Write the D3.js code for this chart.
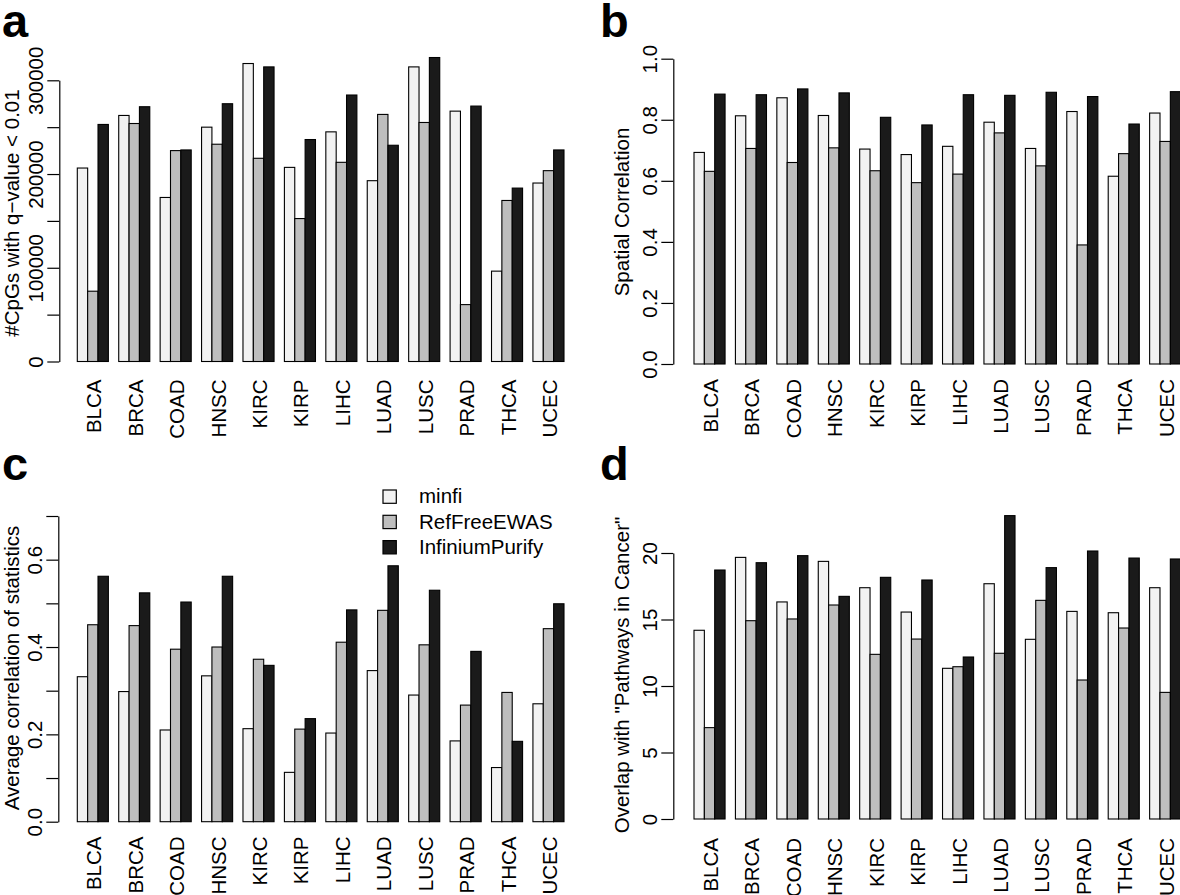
<!DOCTYPE html>
<html>
<head>
<meta charset="utf-8">
<script src="https://cdn.jsdelivr.net/npm/d3@7"></script>
<style>
  body { margin: 0; background: #fff; }
  text { font-family: "Liberation Sans", Arial, Helvetica, sans-serif; fill: #000; }
</style>
</head>
<body>
<svg width="1180" height="895"></svg>
<script>
const categories = ['BLCA', 'BRCA', 'COAD', 'HNSC', 'KIRC', 'KIRP', 'LIHC', 'LUAD', 'LUSC', 'PRAD', 'THCA', 'UCEC'];
const methods = ['minfi', 'RefFreeEWAS', 'InfiniumPurify'];
const colors = ['#f2f2f2', '#bebebe', '#1a1a1a'];

// a: number of CpGs with q-value < 0.01
const cpgMinfi = [206400, 262500, 175000, 250000, 317900, 207100, 245000, 192900, 314300, 267100, 96400, 190400];
const cpgRefFree = [75000, 253900, 225000, 231800, 216800, 152500, 212500, 263600, 255000, 60700, 171800, 203600];
const cpgPurify = [252900, 271800, 225700, 275000, 314300, 236800, 284300, 230700, 324300, 272500, 185000, 225700];
const cpgTicks = [0, 50000, 100000, 150000, 200000, 250000, 300000];
const cpgLabels = [0, 100000, 200000, 300000];

// b: spatial correlation
const spMinfi = [0.693, 0.813, 0.872, 0.814, 0.704, 0.686, 0.713, 0.792, 0.706, 0.827, 0.615, 0.822];
const spRefFree = [0.631, 0.706, 0.660, 0.708, 0.633, 0.594, 0.622, 0.757, 0.649, 0.390, 0.689, 0.729];
const spPurify = [0.884, 0.882, 0.901, 0.888, 0.808, 0.783, 0.882, 0.880, 0.890, 0.876, 0.786, 0.892];
const spTicks = [0, 0.2, 0.4, 0.6, 0.8, 1.0];
const spLabels = [0, 0.2, 0.4, 0.6, 0.8, 1.0];

// c: average correlation of statistics
const acMinfi = [0.332, 0.298, 0.210, 0.334, 0.213, 0.113, 0.203, 0.346, 0.290, 0.185, 0.124, 0.270];
const acRefFree = [0.451, 0.449, 0.395, 0.400, 0.372, 0.212, 0.411, 0.484, 0.405, 0.267, 0.296, 0.442];
const acPurify = [0.562, 0.524, 0.503, 0.562, 0.358, 0.236, 0.485, 0.586, 0.530, 0.390, 0.184, 0.499];
const acTicks = [0, 0.1, 0.2, 0.3, 0.4, 0.5, 0.6, 0.7];
const acLabels = [0, 0.2, 0.4, 0.6];

// d: overlap with "Pathways in Cancer"
const ovMinfi = [14.19, 19.67, 16.32, 19.37, 17.39, 15.56, 11.33, 17.69, 13.51, 15.61, 15.51, 17.39];
const ovRefFree = [6.87, 14.91, 15.04, 16.09, 12.38, 13.53, 11.45, 12.46, 16.44, 10.45, 14.36, 9.52];
const ovPurify = [18.72, 19.27, 19.80, 16.74, 18.17, 17.97, 12.18, 22.81, 18.90, 20.15, 19.62, 19.55];
const ovTicks = [0, 5, 10, 15, 20];
const ovLabels = [0, 5, 10, 15, 20];

const svg = d3.select('svg');
const fontSize = '20.5px';

const panels = [
  { letter: 'a', lx: 2, ly: 37, values: [cpgMinfi, cpgRefFree, cpgPurify], ticks: cpgTicks, labels: cpgLabels,
    fmt: d3.format('d'), axisX: 59.3, xr: [77.3, 564], y0: 361.5, y1: 80.3, ymax: 300000,
    title: '#CpGs with q\u2212value < 0.01', titleX: 19, titleY: 213, catY: 379.5 },
  { letter: 'b', lx: 600, ly: 37, values: [spMinfi, spRefFree, spPurify], ticks: spTicks, labels: spLabels,
    fmt: d3.format('.1f'), axisX: 673.3, xr: [694, 1180.7], y0: 364, y1: 58.7, ymax: 1,
    title: 'Spatial Correlation', titleX: 629, titleY: 212, catY: 379 },
  { letter: 'c', lx: 2, ly: 480, values: [acMinfi, acRefFree, acPurify], ticks: acTicks, labels: acLabels,
    fmt: d3.format('.1f'), axisX: 58.3, xr: [77.3, 564], y0: 821.7, y1: 516, ymax: 0.7,
    title: 'Average correlation of statistics', titleX: 18.5, titleY: 668, catY: 836.5 },
  { letter: 'd', lx: 600, ly: 480, values: [ovMinfi, ovRefFree, ovPurify], ticks: ovTicks, labels: ovLabels,
    fmt: d3.format('d'), axisX: 673.3, xr: [694, 1180.7], y0: 819, y1: 553, ymax: 20,
    title: 'Overlap with "Pathways in Cancer"', titleX: 629, titleY: 675, catY: 838 }
];

panels.forEach(p => {
  const g = svg.append('g');
  const x0 = d3.scaleBand().domain(categories).range(p.xr).paddingInner(0.25).paddingOuter(0);
  const x1 = d3.scaleBand().domain(methods).range([0, x0.bandwidth()]);
  const y = d3.scaleLinear().domain([0, p.ymax]).range([p.y0, p.y1]);

  const rows = categories.map((c, i) => ({ cat: c, vals: methods.map((m, j) => ({ key: m, j, value: p.values[j][i] })) }));

  // Bars
  g.append('g')
    .selectAll('g')
    .data(rows)
    .enter()
    .append('g')
    .attr('transform', d => `translate(${x0(d.cat)},0)`)
    .selectAll('rect')
    .data(d => d.vals)
    .enter()
    .append('rect')
    .attr('x', d => x1(d.key))
    .attr('y', d => y(d.value))
    .attr('width', x1.bandwidth())
    .attr('height', d => p.y0 - y(d.value))
    .attr('fill', d => colors[d.j])
    .attr('stroke', '#000')
    .attr('stroke-width', 1.1);

  // Y-Axis
  const ax = g.append('g')
    .attr('transform', `translate(${p.axisX},0)`)
    .call(d3.axisLeft(y).tickValues(p.ticks).tickSize(12).tickSizeOuter(0)
      .tickFormat(v => p.labels.some(l => Math.abs(l - v) < 1e-9) ? p.fmt(v) : ''));
  ax.select('.domain').attr('stroke-width', 1.2);
  ax.selectAll('.tick line').attr('stroke-width', 1.2);
  ax.selectAll('.tick text')
    .attr('transform', 'rotate(-90)')
    .attr('x', 0)
    .attr('y', -16.5)
    .attr('dy', 0)
    .attr('text-anchor', 'middle')
    .style('font-size', fontSize)
    .style('font-family', '"Liberation Sans", Arial, sans-serif')
    .attr('fill', '#000');

  // Category labels
  g.append('g')
    .selectAll('text')
    .data(categories)
    .enter()
    .append('text')
    .attr('transform', d => `translate(${x0(d) + x0.bandwidth() / 2 + 8.5},${p.catY}) rotate(-90)`)
    .attr('text-anchor', 'end')
    .style('font-size', fontSize)
    .text(d => d);

  // Y title
  g.append('text')
    .attr('transform', `translate(${p.titleX},${p.titleY}) rotate(-90)`)
    .attr('text-anchor', 'middle')
    .style('font-size', fontSize)
    .text(p.title);

  // Panel letter
  svg.append('text')
    .attr('x', p.lx)
    .attr('y', p.ly)
    .style('font-size', '47px')
    .style('font-weight', 'bold')
    .text(p.letter);
});

// Legend (panel c)
const legend = svg.append('g')
  .selectAll('g')
  .data(methods)
  .enter()
  .append('g')
  .attr('transform', (d, i) => `translate(383, ${490 + i * 25.3})`);

legend.append('rect')
  .attr('width', 13.3)
  .attr('height', 13.3)
  .attr('fill', (d, i) => colors[i])
  .attr('stroke', '#000')
  .attr('stroke-width', 1.2);

legend.append('text')
  .attr('x', 36)
  .attr('y', 13.3)
  .style('font-size', fontSize)
  .text(d => d);
</script>
</body>
</html>
